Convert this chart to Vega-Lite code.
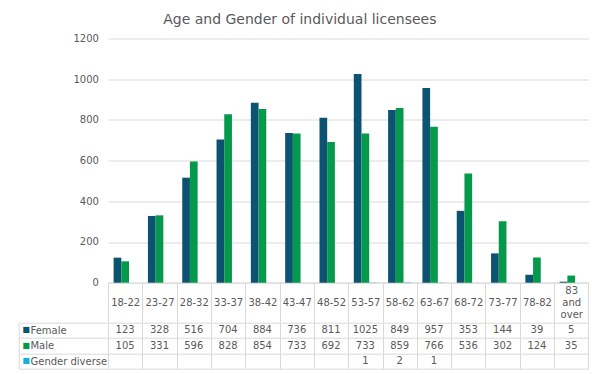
{
  "$schema": "https://vega.github.io/schema/vega-lite/v6.json",
  "datasets": {
    "d": [
      {"age": "18-22", "gender": "Female", "count": 123},
      {"age": "23-27", "gender": "Female", "count": 328},
      {"age": "28-32", "gender": "Female", "count": 516},
      {"age": "33-37", "gender": "Female", "count": 704},
      {"age": "38-42", "gender": "Female", "count": 884},
      {"age": "43-47", "gender": "Female", "count": 736},
      {"age": "48-52", "gender": "Female", "count": 811},
      {"age": "53-57", "gender": "Female", "count": 1025},
      {"age": "58-62", "gender": "Female", "count": 849},
      {"age": "63-67", "gender": "Female", "count": 957},
      {"age": "68-72", "gender": "Female", "count": 353},
      {"age": "73-77", "gender": "Female", "count": 144},
      {"age": "78-82", "gender": "Female", "count": 39},
      {"age": "83 and over", "gender": "Female", "count": 5},
      {"age": "18-22", "gender": "Male", "count": 105},
      {"age": "23-27", "gender": "Male", "count": 331},
      {"age": "28-32", "gender": "Male", "count": 596},
      {"age": "33-37", "gender": "Male", "count": 828},
      {"age": "38-42", "gender": "Male", "count": 854},
      {"age": "43-47", "gender": "Male", "count": 733},
      {"age": "48-52", "gender": "Male", "count": 692},
      {"age": "53-57", "gender": "Male", "count": 733},
      {"age": "58-62", "gender": "Male", "count": 859},
      {"age": "63-67", "gender": "Male", "count": 766},
      {"age": "68-72", "gender": "Male", "count": 536},
      {"age": "73-77", "gender": "Male", "count": 302},
      {"age": "78-82", "gender": "Male", "count": 124},
      {"age": "83 and over", "gender": "Male", "count": 35},
      {"age": "53-57", "gender": "Gender diverse", "count": 1},
      {"age": "58-62", "gender": "Gender diverse", "count": 2},
      {"age": "63-67", "gender": "Gender diverse", "count": 1}
    ]
  },
  "data": {"name": "d"},
  "title": {
    "text": "Age and Gender of individual licensees",
    "fontSize": 14,
    "font": "DejaVu Sans",
    "fontWeight": "normal",
    "color": "#595959",
    "anchor": "middle",
    "frame": "bounds",
    "dx": -3.5,
    "offset": 6.4
  },
  "padding": {"left": 18, "top": 12.5, "right": 5, "bottom": 5},
  "autosize": {"type": "pad"},
  "bounds": "flush",
  "spacing": 39.2,
  "vconcat": [
    {
      "width": 480.4,
      "height": 244.2,
      "view": {"stroke": null},
      "mark": {"type": "bar"},
      "encoding": {
        "x": {
          "field": "age",
          "type": "nominal",
          "sort": ["18-22", "23-27", "28-32", "33-37", "38-42", "43-47", "48-52", "53-57", "58-62", "63-67", "68-72", "73-77", "78-82", "83 and over"],
          "scale": {"paddingInner": 0, "paddingOuter": 0},
          "axis": {
            "title": null,
            "tickBand": "extent",
            "tickSize": 39.2,
            "tickColor": "#D9D9D9",
            "domainColor": "#D9D9D9",
            "labelAngle": 0,
            "labelFontSize": 10,
            "labelColor": "#595959",
            "labelBaseline": "middle",
            "labelPadding": -31.7,
            "labelLineHeight": 12.2,
            "labelExpr": "datum.value == '83 and over' ? ['83', 'and', 'over'] : ['', datum.value]"
          }
        },
        "xOffset": {
          "field": "gender",
          "type": "nominal",
          "scale": {"domain": ["Female", "Male", "Gender diverse"], "paddingInner": 0, "paddingOuter": 0.727}
        },
        "y": {
          "field": "count",
          "type": "quantitative",
          "scale": {"domain": [0, 1200]},
          "axis": {
            "title": null,
            "values": [0, 200, 400, 600, 800, 1000, 1200],
            "format": "d",
            "domain": false,
            "ticks": false,
            "gridColor": "#D9D9D9",
            "labelPadding": 9.6,
            "labelFontSize": 10,
            "labelColor": "#595959"
          }
        },
        "color": {
          "field": "gender",
          "type": "nominal",
          "scale": {"domain": ["Female", "Male", "Gender diverse"], "range": ["#0C5372", "#05994C", "#13B2DE"]},
          "legend": null
        }
      }
    },
    {
      "width": 480.4,
      "height": 46,
      "view": {"stroke": null},
      "layer": [
        {
          "mark": {"type": "text", "fontSize": 10, "color": "#595959"},
          "encoding": {
            "x": {
              "field": "age",
              "type": "nominal",
              "sort": ["18-22", "23-27", "28-32", "33-37", "38-42", "43-47", "48-52", "53-57", "58-62", "63-67", "68-72", "73-77", "78-82", "83 and over"],
              "scale": {"paddingInner": 0, "paddingOuter": 0},
              "axis": {"title": null, "labels": false, "ticks": false, "domain": false, "grid": true, "tickBand": "extent", "gridColor": "#D9D9D9"}
            },
            "y": {
              "field": "gender",
              "type": "nominal",
              "scale": {"domain": ["Female", "Male", "Gender diverse"], "paddingInner": 0, "paddingOuter": 0},
              "axis": {
                "title": null,
                "orient": "left",
                "domain": true,
                "domainColor": "#D9D9D9",
                "ticks": true,
                "tickBand": "extent",
                "tickSize": 89.3,
                "tickColor": "#D9D9D9",
                "grid": true,
                "gridColor": "#D9D9D9",
                "labelAlign": "left",
                "labelPadding": -11.3,
                "labelFontSize": 10,
                "labelColor": "#595959"
              }
            },
            "text": {"field": "count", "type": "quantitative"}
          }
        },
        {
          "mark": {"type": "text", "opacity": 0},
          "encoding": {
            "y": {
              "field": "gender",
              "type": "nominal",
              "axis": {
                "title": null,
                "orient": "left",
                "offset": 89.3,
                "domain": true,
                "domainColor": "#D9D9D9",
                "ticks": false,
                "tickSize": 0,
                "grid": false,
                "labelExpr": "'■'",
                "labelAlign": "left",
                "labelPadding": -3.4,
                "labelFontSize": 8,
                "labelColor": {
                  "condition": [
                    {"test": "datum.value === 'Female'", "value": "#0C5372"},
                    {"test": "datum.value === 'Male'", "value": "#05994C"}
                  ],
                  "value": "#13B2DE"
                }
              }
            },
            "text": {"value": ""}
          }
        }
      ],
      "resolve": {"axis": {"y": "independent"}}
    }
  ],
  "config": {
    "font": "DejaVu Sans",
    "view": {"stroke": null},
    "axis": {"labelFont": "DejaVu Sans"}
  }
}
